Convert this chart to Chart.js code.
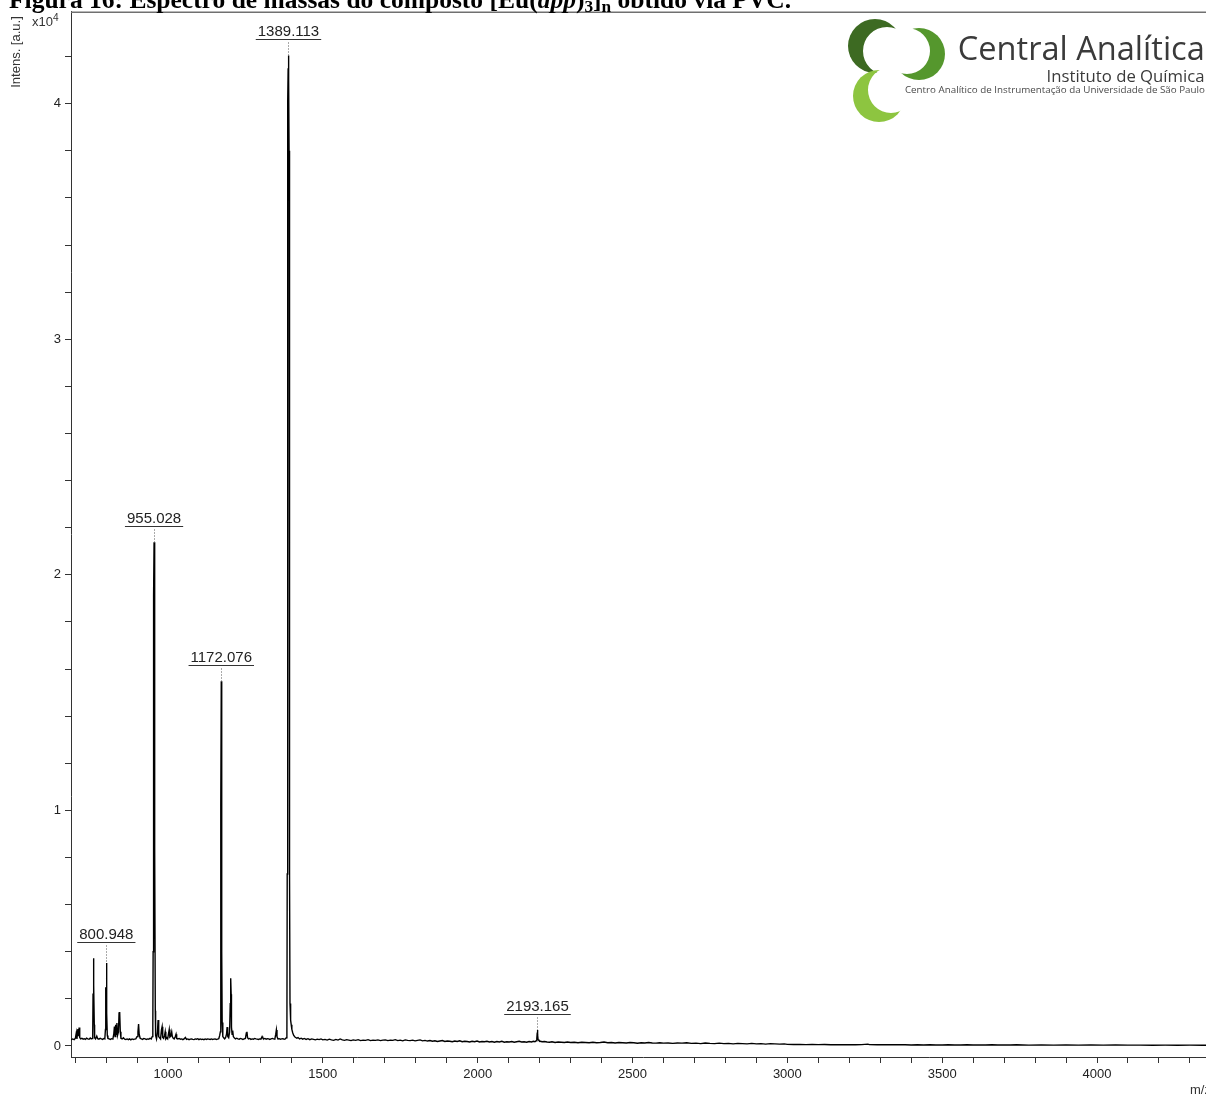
<!DOCTYPE html>
<html lang="pt">
<head>
<meta charset="utf-8">
<title>Espectro de massas [Eu(dpp)3]n</title>
<script src="https://cdn.jsdelivr.net/npm/chart.js@4.4.1/dist/chart.umd.min.js"></script>
<style>
  html, body { margin: 0; padding: 0; background: #fff; overflow: hidden; }
  #page { position: relative; width: 1206px; height: 1095px; overflow: hidden; background: #fff; }
  #spectrum { position: absolute; left: 0; top: 0; }
  .caption { position: absolute; left: 9px; top: -15px; white-space: nowrap;
    font: bold 25.5px "Liberation Serif", "Times New Roman", serif; color: #000; }
  .caption sub { font-size: 0.68em; vertical-align: -0.22em; line-height: 0; }
  .ytitle { position: absolute; left: 15px; top: 52px; white-space: nowrap;
    transform: translate(-50%, -50%) rotate(-90deg);
    font: 13px "Liberation Sans", Arial, sans-serif; color: #333; }
  .yexp { position: absolute; left: 32px; top: 14px; white-space: nowrap;
    font: 13px "Liberation Sans", Arial, sans-serif; color: #333; }
  .yexp sup { font-size: 0.78em; vertical-align: 0.45em; line-height: 0; }
  .xunit { position: absolute; left: 1190px; top: 1082px; white-space: nowrap;
    font: 13px "Liberation Sans", Arial, sans-serif; color: #333; }
  #logo { position: absolute; left: 840px; top: 10px; width: 366px; height: 120px; }
  #swirl { position: absolute; left: 5px; top: 2px; }
  .logo-line { position: absolute; right: 1px; white-space: nowrap; transform-origin: right center;
    font-family: "Open Sans", "Noto Sans", sans-serif; color: #3a3a3a; }
  .l1 { top: 15.8px; font-size: 32px; }
  .l2 { top: 54.9px; font-size: 15.5px; }
  .l3 { top: 72.8px; font-size: 9.5px; color: #4a4a4a; }
</style>
</head>
<body>
<div id="page">
  <canvas id="spectrum" width="1240" height="1095" style="width:1240px;height:1095px"></canvas>
  <div class="caption">Figura 16: Espectro de massas do composto [Eu(<i>dpp</i>)<sub>3</sub>]<sub>n</sub> obtido via PVC.</div>
  <div class="ytitle">Intens. [a.u.]</div>
  <div class="yexp">x10<sup>4</sup></div>
  <div class="xunit">m/z</div>
  <div id="logo">
    <canvas id="swirl" width="115" height="118"></canvas>
    <div class="logo-line l1" data-w="247">Central Analítica</div>
    <div class="logo-line l2" data-w="158">Instituto de Química</div>
    <div class="logo-line l3" data-w="300">Centro Analítico de Instrumentação da Universidade de São Paulo</div>
  </div>
</div>
<script>
// ---- Spectrum data: [m/z, intensity (a.u.)] ----
const lowMassSpectrum = [
  [687,260],[692,300],[697,270],[701,330],[704,560],[706,300],[709,720],[711,420],[713,780],[715,360],
  [718,300],[722,330],[726,290],[730,310],[733,280],[737,330],[741,300],[745,290],[749,340],[752,300],
  [755,320],[757,600],[758,2200],[759,3730],[760,3730],[761,2590],[762,900],[763,350],[766,300],[770,420],
  [773,310],[777,290],[781,330],[785,300],[789,280],[793,320],[796,300],[798,700],[799,2460],[800,2460],
  [800.948,3520],[802,1400],[803,1400],[804,450],[806,320],[810,300],[814,280],[818,310],[822,290],[825,520],
  [827,830],[829,400],[831,900],[833,500],[835,980],[837,450],[840,600],[842,1400],[844,1440],[846,600],
  [848,330],[852,300],[856,350],[860,290],[864,280],[868,300],[872,270],[876,300],[880,260],[884,300],
  [888,280],[892,290],[896,300],[900,400],[903,600],[905,930],[907,500],[910,330],[914,300],[918,280],
  [922,320],[926,300],[930,280],[934,300],[938,290],[942,330],[946,300],[949,400],[951,800],[952,4000],
  [953,8500],[954,19100],[955.028,21380],[956,19000],[957,11700],[958,8400],[959,1500],[960,450],[963,300],[966,600],[968,1100],
  [970,400],[973,350],[976,300],[979,700],[981,820],[983,360],[986,320],[989,450],[991,600],[993,300],
  [996,350],[999,300],[1002,550],[1004,700],[1006,380],[1009,420],[1012,600],[1014,400],[1017,330],[1020,300],
  [1023,380],[1026,500],[1028,320],[1032,300],[1036,320],[1040,290],[1044,300],[1048,270],[1052,300],[1056,360],
  [1060,280],[1064,300],[1068,270],[1072,290],[1076,300],[1080,280],[1084,270],[1088,300],[1092,290],[1096,310],
  [1100,270],[1104,300],[1108,280],[1112,290],[1116,270],[1120,300],[1124,280],[1128,300],[1132,290],[1136,280],
  [1140,300],[1144,280],[1148,290],[1152,300],[1156,280],[1160,290],[1164,310],[1167,450],[1169,600],[1170,4600],
  [1171,10200],[1172.076,15480],[1173,10200],[1174,4000],[1175,1000],[1177,400],[1180,350],[1183,300],[1186,350],[1189,500],
  [1191,800],[1193,400],[1196,350],[1199,600],[1201,1800],[1202,2500],[1203,2880],[1204,2200],[1205,800],[1207,500],
  [1209,650],[1211,400],[1214,350],[1218,300],[1222,330],[1226,300],[1230,290],[1234,320],[1238,300],[1242,280],
  [1246,300],[1250,320],[1253,550],[1255,600],[1257,350],[1260,300],[1264,320],[1268,280],[1272,300],[1276,290],
  [1280,320],[1284,300],[1288,290],[1292,280],[1296,300],[1300,290],[1304,400],[1306,350],[1309,300],[1313,320],
  [1317,290],[1321,310],[1325,300],[1329,280],[1333,300],[1337,320],[1341,300],[1345,290],[1348,500],[1350,680],
  [1352,400],[1355,300],[1359,310],[1363,290],[1367,300],[1371,310],[1375,290],[1379,300],[1382,350],[1384,800],
  [1385,7300],[1386,30000],[1387,40000],[1388,41500],[1389.113,42050],[1390,41000],[1391,38000],[1392,25000],[1393,7300],[1394,1800],
  [1396,1100],[1398,900],[1400,700],[1403,550],[1406,450]
];

const highMassSpectrum = [
  [1410,380],[1416,330],[1420,360],[1425,300],[1430,330],[1435,290],[1440,320],[1446,280],[1452,310],[1458,270],
  [1464,300],[1470,280],[1476,260],[1482,290],[1488,270],[1494,300],[1500,260],[1507,280],[1514,250],[1521,290],
  [1528,260],[1535,240],[1542,280],[1549,250],[1556,300],[1563,260],[1570,240],[1577,270],[1584,250],[1591,230],
  [1598,260],[1606,240],[1614,270],[1622,230],[1630,250],[1638,240],[1646,270],[1654,230],[1662,250],[1670,240],
  [1678,260],[1686,230],[1694,250],[1702,260],[1710,230],[1718,250],[1726,240],[1734,270],[1742,230],[1750,250],
  [1758,220],[1766,260],[1774,240],[1782,230],[1790,250],[1798,220],[1806,240],[1814,260],[1822,220],[1830,240],
  [1838,210],[1846,230],[1854,200],[1862,220],[1870,190],[1878,210],[1886,230],[1894,190],[1902,210],[1910,200],
  [1918,180],[1926,210],[1934,190],[1942,220],[1950,180],[1958,200],[1966,190],[1974,170],[1982,200],[1990,180],
  [1998,210],[2006,170],[2014,190],[2022,180],[2030,200],[2038,170],[2046,190],[2054,160],[2062,190],[2070,170],
  [2078,200],[2086,160],[2094,180],[2102,170],[2110,190],[2118,160],[2126,180],[2134,200],[2142,170],[2150,180],
  [2158,160],[2166,190],[2174,170],[2180,200],[2185,180],[2189,220],[2191,320],[2192,500],[2193.165,680],[2194,470],
  [2195,280],[2198,230],[2202,200],[2208,180],[2216,190],[2224,170],[2232,160],[2240,180],[2250,150],[2260,170],
  [2270,160],[2280,150],[2290,170],[2300,150],[2312,160],[2324,140],[2336,160],[2348,150],[2360,140],[2372,160],
  [2384,140],[2396,150],[2408,170],[2420,140],[2432,150],[2444,130],[2456,150],[2468,140],[2480,130],[2492,150],
  [2504,140],[2516,120],[2528,140],[2540,130],[2552,150],[2564,130],[2576,120],[2588,140],[2600,120],[2615,130],
  [2630,110],[2645,130],[2660,120],[2675,140],[2690,110],[2705,120],[2720,100],[2735,130],[2750,110],[2765,100],
  [2780,120],[2795,100],[2810,110],[2825,90],[2840,110],[2855,100],[2870,90],[2885,110],[2900,90],[2915,100],
  [2930,80],[2945,100],[2960,90],[2975,80],[2990,90],[3000,70],[3020,65],[3040,70],[3060,60],[3080,65],
  [3100,60],[3120,65],[3140,55],[3160,60],[3180,55],[3200,60],[3220,55],[3240,60],[3260,80],[3265,60],
  [3290,55],[3320,50],[3350,55],[3380,50],[3400,45],[3420,55],[3440,40],[3460,50],[3480,45],[3500,40],
  [3520,50],[3540,45],[3560,40],[3580,50],[3600,40],[3620,45],[3640,40],[3660,50],[3680,40],[3700,45],
  [3720,40],[3740,50],[3760,40],[3780,35],[3820,40],[3860,35],[3900,40],[3940,35],[3980,40],[4020,35],
  [4060,40],[4100,35],[4140,38],[4180,34],[4220,36],[4260,33],[4300,35],[4340,32],[4380,33],[4420,32]
];

// Annotated peaks
const peakMz = [800.948, 955.028, 1172.076, 1389.113, 2193.165];
const peakLabels = ['800.948', '955.028', '1172.076', '1389.113', '2193.165'];

// Axis ranges and ticks: minor every 100 m/z / 2000 counts, labels every 500 m/z / 1x10^4
const xRange = [686.8, 4381];
const yRange = [-467, 43900];
const xTickStep = 100, xLabelStep = 500;
const yTickStep = 2000, yLabelStep = 10000, yExponent = 1e4;

const spectrumPoints = lowMassSpectrum.concat(highMassSpectrum).map(([x, y]) => ({ x, y }));

// tick values on whole multiples of the step inside the axis range
function stepTicks(range, step) {
  const out = [];
  for (let v = Math.ceil(range[0] / step) * step; v <= range[1]; v += step) out.push({ value: v });
  return out;
}

const AXIS_FONT = { family: '"Liberation Sans", Arial, sans-serif', size: 13 };

const peakAnnotations = {
  id: 'peakAnnotations',
  afterDatasetsDraw(chart) {
    const { ctx, chartArea, scales: { x, y } } = chart;
    const pts = chart.data.datasets[0].data;
    ctx.save();
    // top frame line
    ctx.strokeStyle = '#707070';
    ctx.lineWidth = 1.5;
    ctx.beginPath();
    ctx.moveTo(chartArea.left, chartArea.top + 0.5);
    ctx.lineTo(chartArea.right, chartArea.top + 0.5);
    ctx.stroke();

    ctx.font = '15px "Liberation Sans", Arial, sans-serif';
    ctx.textAlign = 'center';
    ctx.textBaseline = 'alphabetic';
    peakMz.forEach((mz, k) => {
      const px = x.getPixelForValue(mz);
      const peak = pts.find(p => p.x === mz);
      const py = y.getPixelForValue(peak.y);
      // lift the label above any taller neighbour
      let top = py;
      pts.forEach(p => {
        if (Math.abs(x.getPixelForValue(p.x) - px) <= 15) top = Math.min(top, y.getPixelForValue(p.y));
      });
      const ul = Math.round(top - 16) + 0.5;
      const text = peakLabels[k];
      const w = ctx.measureText(text).width;
      ctx.fillStyle = '#222';
      ctx.fillText(text, px, ul - 4);
      ctx.setLineDash([]);
      ctx.strokeStyle = '#333';
      ctx.lineWidth = 1;
      ctx.beginPath();
      ctx.moveTo(px - w / 2 - 2, ul);
      ctx.lineTo(px + w / 2 + 2, ul);
      ctx.stroke();
      ctx.setLineDash([1, 2]);
      ctx.strokeStyle = '#555';
      ctx.beginPath();
      ctx.moveTo(Math.round(px) + 0.5, ul + 3);
      ctx.lineTo(Math.round(px) + 0.5, py);
      ctx.stroke();
    });
    ctx.restore();
  }
};

new Chart(document.getElementById('spectrum'), {
  type: 'line',
  data: {
    datasets: [{
      data: spectrumPoints,
      borderColor: '#000',
      borderWidth: 1.4,
      pointRadius: 0,
      tension: 0,
      fill: false
    }]
  },
  options: {
    responsive: false,
    animation: false,
    events: [],
    layout: { padding: { top: 11, right: 25, left: 0, bottom: 0 } },
    plugins: { legend: { display: false }, tooltip: { enabled: false }, title: { display: false } },
    scales: {
      x: {
        type: 'linear',
        min: xRange[0],
        max: xRange[1],
        afterFit: s => { s.height = 38; },
        afterBuildTicks: s => { s.ticks = stepTicks(xRange, xTickStep); },
        border: { display: true, color: '#333', width: 1 },
        grid: { display: true, drawOnChartArea: false, drawTicks: true, tickLength: 6, color: '#333' },
        ticks: {
          autoSkip: false,
          maxRotation: 0,
          padding: 4,
          color: '#222',
          font: AXIS_FONT,
          callback: v => (Math.abs(v % xLabelStep) < 1e-6 ? String(v) : '')
        }
      },
      y: {
        type: 'linear',
        min: yRange[0],
        max: yRange[1],
        afterFit: s => { s.width = 71; },
        afterBuildTicks: s => { s.ticks = stepTicks(yRange, yTickStep); },
        border: { display: true, color: '#333', width: 1 },
        grid: { display: true, drawOnChartArea: false, drawTicks: true, tickLength: 6, color: '#333' },
        ticks: {
          autoSkip: false,
          padding: 4,
          color: '#222',
          font: AXIS_FONT,
          callback: v => (Math.abs(v % yLabelStep) < 1e-6 ? String(v / yExponent) : '')
        }
      }
    }
  },
  plugins: [peakAnnotations]
});

// ---- Logo mark: three interlocking crescents ----
(function drawSwirl() {
  const cv = document.getElementById('swirl');
  const ctx = cv.getContext('2d');
  function crescent(outer, inner, color) {
    ctx.save();
    ctx.beginPath();
    ctx.rect(0, 0, cv.width, cv.height);
    ctx.arc(inner[0], inner[1], inner[2], 0, Math.PI * 2);
    ctx.clip('evenodd');
    ctx.beginPath();
    ctx.arc(outer[0], outer[1], outer[2], 0, Math.PI * 2);
    ctx.fillStyle = color;
    ctx.fill();
    ctx.restore();
  }
  crescent([30, 34, 27], [42, 39, 24], '#3d6a22');
  crescent([74, 42, 26], [62, 39, 23], '#55972d');
  crescent([34, 84, 26], [46, 78, 23], '#8dc540');
})();

// fit logo lines to their widths
function fitLogo() {
  document.querySelectorAll('.logo-line').forEach(el => {
    el.style.transform = 'none';
    const w = el.getBoundingClientRect().width;
    const target = parseFloat(el.dataset.w);
    if (w > 0) el.style.transform = 'scaleX(' + (target / w).toFixed(4) + ')';
  });
}
fitLogo();
if (document.fonts && document.fonts.ready) document.fonts.ready.then(fitLogo);
</script>
</body>
</html>
